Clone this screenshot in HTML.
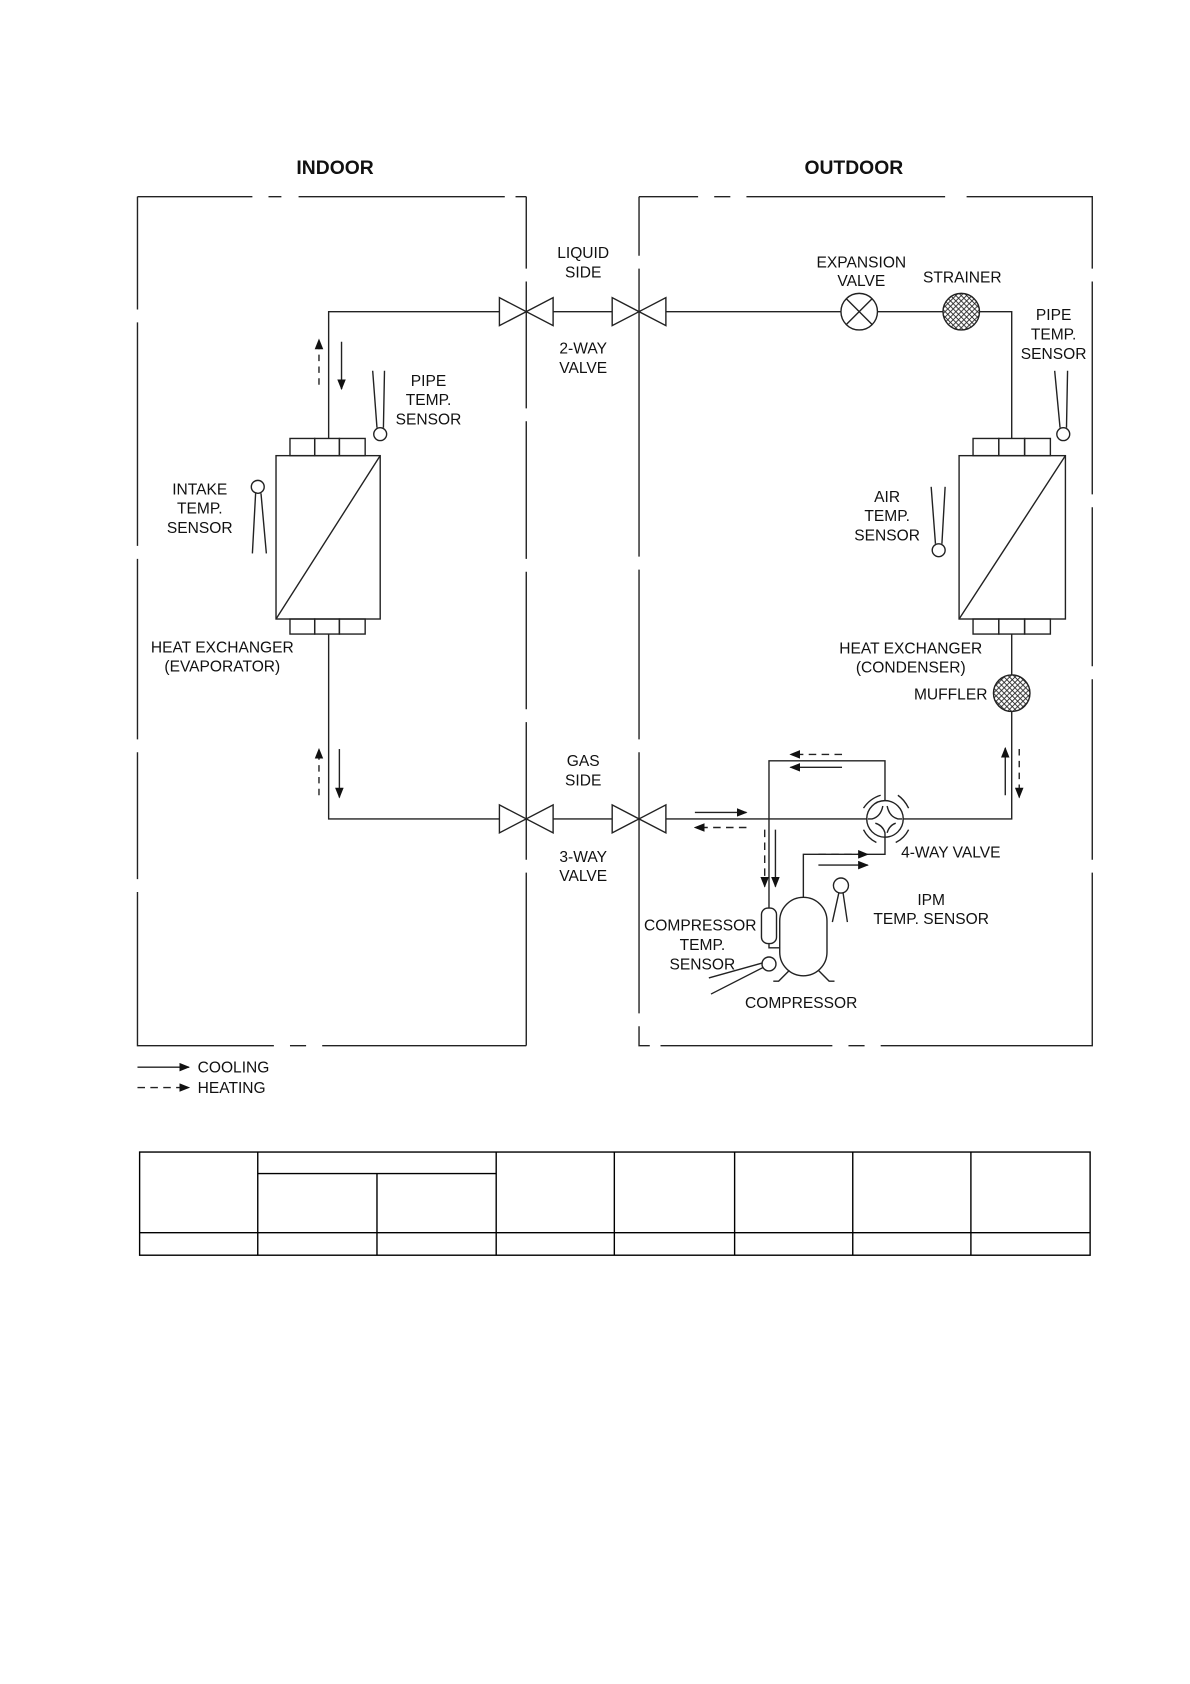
<!DOCTYPE html>
<html><head><meta charset="utf-8"><style>
html,body{margin:0;padding:0;background:#fff;}
svg{display:block}
text{font-family:"Liberation Sans",Arial,sans-serif;font-size:14.5px;fill:#111}
.b{font-weight:bold;font-size:18px}
</style></head><body>
<svg width="1190" height="1684" viewBox="0 0 1108 1567" preserveAspectRatio="none" xmlns="http://www.w3.org/2000/svg">
<defs>
<marker id="a" markerWidth="10" markerHeight="8" refX="9" refY="4" orient="auto" markerUnits="userSpaceOnUse"><path d="M0,0 L10,4 L0,8 z" fill="#111"/></marker>
<pattern id="h" width="5" height="5" patternUnits="userSpaceOnUse"><path d="M0,0 L5,5 M5,0 L0,5" stroke="#222" stroke-width="0.8"/></pattern>
</defs>
<g stroke="#222" stroke-width="1.3" fill="none">
<path d="M128,183 H235 M250,183 H262 M278,183 H470 M480,183 H490 M490,183 V250 M490,262 V380 M490,392 V520 M490,532 V660 M490,672 V800 M490,812 V973 M490,973 H300 M285,973 H270 M255,973 H128 V830 M128,818 V700 M128,688 V520 M128,508 V300 M128,288 V183"/>
<path d="M595,183 H650 M665,183 H680 M695,183 H880 M900,183 H1017 V250 M1017,262 V460 M1017,472 V620 M1017,632 V800 M1017,812 V973 H820 M805,973 H790 M775,973 H615 M605,973 H595 V955 M595,943 V700 M595,688 V530 M595,518 V250 M595,238 V183"/>
<path d="M306,408 V290 H465 M515,290 H570 M620,290 H783 M817,290 H878 M912,290 H942 V408"/>
<path d="M306,590 V762 H465 M515,762 H570 M620,762 H808 M840,762 H942 V662 M942,628 V590"/>
<path d="M465,277 V303 L515,277 V303 Z M570,277 V303 L620,277 V303 Z M465,749 V775 L515,749 V775 Z M570,749 V775 L620,749 V775 Z" fill="#fff"/>
<rect x="270" y="408" width="23" height="16"/><rect x="293" y="408" width="23" height="16"/><rect x="316" y="408" width="24" height="16"/>
<rect x="257" y="424" width="97" height="152"/><path d="M257,576 L354,424"/>
<rect x="270" y="576" width="23" height="14"/><rect x="293" y="576" width="23" height="14"/><rect x="316" y="576" width="24" height="14"/>
<rect x="906" y="408" width="24" height="16"/><rect x="930" y="408" width="24" height="16"/><rect x="954" y="408" width="24" height="16"/>
<rect x="893" y="424" width="99" height="152"/><path d="M893,576 L992,424"/>
<rect x="906" y="576" width="24" height="14"/><rect x="930" y="576" width="24" height="14"/><rect x="954" y="576" width="24" height="14"/>
<circle cx="800" cy="290" r="17" fill="#fff"/><path d="M788,278 L812,302 M812,278 L788,302"/>
<circle cx="895" cy="290" r="17" fill="url(#h)"/>
<circle cx="942" cy="645" r="17" fill="url(#h)"/>
<circle cx="354" cy="404" r="6"/><path d="M351,398 L347,345 M357,398 L358,345"/>
<circle cx="240" cy="453" r="6"/><path d="M238,459 L235,515 M243,459 L248,515"/>
<circle cx="990" cy="404" r="6"/><path d="M987,398 L982,345 M993,398 L994,345"/>
<circle cx="874" cy="512" r="6"/><path d="M871,506 L867,453 M877,506 L880,453"/>
<circle cx="783" cy="824" r="7"/><path d="M781,831 L775,858 M785,831 L789,858"/>
<circle cx="716" cy="897" r="6.5"/><path d="M710,896 L660,910 M711,900 L662,925"/>
<circle cx="824" cy="762" r="17" fill="#fff"/>
<path d="M808,762 H812 Q820,760 822,750 M840,762 H836 Q828,760 826,750 M824,779 V775 Q822,768 815,766 M826,775 Q828,768 834,766"/>
<path d="M804,752 Q810,743 820,740 M836,740 Q842,744 846,752 M804,772 Q808,780 816,784 M834,784 Q842,780 846,772" />
<path d="M824,745 V708 H716 V845 M716,878 V882 H726 M824,779 V795 H748 V835"/>
<rect x="709" y="845" width="14" height="33" rx="6"/>
<rect x="726" y="835" width="44" height="73" rx="22"/>
<path d="M735,903 L725,913 H720 M762,903 L772,913 H777"/>
<g marker-end="url(#a)">
<path d="M297,358 V316" stroke-dasharray="6,5"/>
<path d="M318,318 V362"/>
<path d="M297,740 V697" stroke-dasharray="6,5"/>
<path d="M316,697 V742"/>
<path d="M936,740 V696"/>
<path d="M949,697 V742" stroke-dasharray="6,5"/>
<path d="M784,702 H736" stroke-dasharray="7,5"/>
<path d="M784,714 H736"/>
<path d="M647,756 H695"/>
<path d="M695,770 H647" stroke-dasharray="7,5"/>
<path d="M712,772 V825" stroke-dasharray="7,5"/>
<path d="M722,772 V825"/>
<path d="M762,795 H808" stroke-dasharray="7,5"/>
<path d="M762,805 H808"/>
<path d="M128,993 H176"/>
<path d="M128,1012 H176" stroke-dasharray="7,5"/>
</g>
<rect x="130" y="1072" width="885" height="96" stroke="#000"/>
<path d="M240,1072 V1168 M351,1092 V1168 M462,1072 V1168 M572,1072 V1168 M684,1072 V1168 M794,1072 V1168 M904,1072 V1168 M240,1092 H462 M130,1147 H1015" stroke="#000"/>
</g>
<text class="b" x="312" y="162" text-anchor="middle">INDOOR</text>
<text class="b" x="795" y="162" text-anchor="middle">OUTDOOR</text>
<g text-anchor="middle">
<text x="543" y="240">LIQUID</text><text x="543" y="258">SIDE</text>
<text x="543" y="329">2-WAY</text><text x="543" y="347">VALVE</text>
<text x="543" y="713">GAS</text><text x="543" y="731">SIDE</text>
<text x="543" y="802">3-WAY</text><text x="543" y="820">VALVE</text>
<text x="802" y="249">EXPANSION</text><text x="802" y="266">VALVE</text>
<text x="896" y="263">STRAINER</text>
<text x="981" y="298">PIPE</text><text x="981" y="316">TEMP.</text><text x="981" y="334">SENSOR</text>
<text x="399" y="359">PIPE</text><text x="399" y="377">TEMP.</text><text x="399" y="395">SENSOR</text>
<text x="186" y="460">INTAKE</text><text x="186" y="478">TEMP.</text><text x="186" y="496">SENSOR</text>
<text x="826" y="467">AIR</text><text x="826" y="485">TEMP.</text><text x="826" y="503">SENSOR</text>
<text x="207" y="607">HEAT EXCHANGER</text><text x="207" y="625">(EVAPORATOR)</text>
<text x="848" y="608">HEAT EXCHANGER</text><text x="848" y="626">(CONDENSER)</text>
<text x="867" y="842">IPM</text><text x="867" y="860">TEMP. SENSOR</text>
<text x="652" y="866">COMPRESSOR</text><text x="654" y="884">TEMP.</text><text x="654" y="902">SENSOR</text>
<text x="746" y="938">COMPRESSOR</text>
</g>
<text x="851" y="651">MUFFLER</text>
<text x="839" y="798">4-WAY VALVE</text>
<text x="184" y="998">COOLING</text>
<text x="184" y="1017">HEATING</text>
</svg>
</body></html>
